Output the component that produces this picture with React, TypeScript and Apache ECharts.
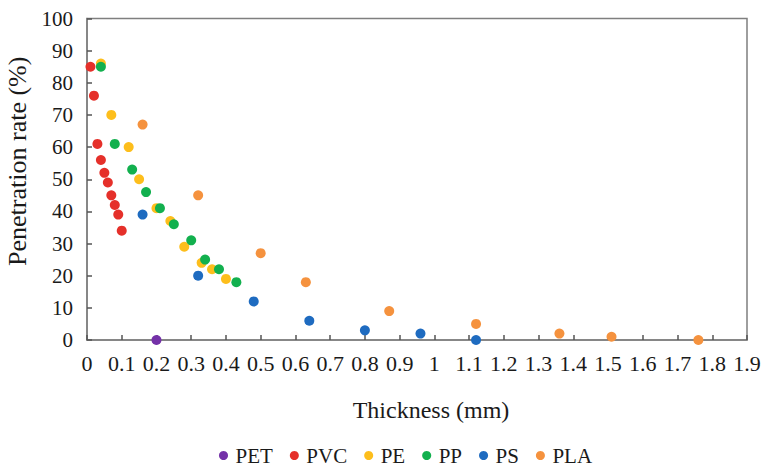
import React, { useEffect, useRef } from "react";
import * as echarts from "echarts";

const xTicksMax = 1.9;
const yTicksMax = 100;

const seriesNames = ["PET", "PVC", "PE", "PP", "PS", "PLA"];
const seriesColors = ["#7431A8", "#E5302A", "#FDBE1C", "#12B04E", "#1E6BC0", "#F5923E"];

const petX = [0.2];
const petY = [0];
const pvcX = [0.01, 0.02, 0.03, 0.04, 0.05, 0.06, 0.07, 0.08, 0.09, 0.1];
const pvcY = [85, 76, 61, 56, 52, 49, 45, 42, 39, 34];
const peX = [0.04, 0.07, 0.12, 0.15, 0.2, 0.24, 0.28, 0.33, 0.36, 0.4];
const peY = [86, 70, 60, 50, 41, 37, 29, 24, 22, 19];
const ppX = [0.04, 0.08, 0.13, 0.17, 0.21, 0.25, 0.3, 0.34, 0.38, 0.43];
const ppY = [85, 61, 53, 46, 41, 36, 31, 25, 22, 18];
const psX = [0.16, 0.32, 0.48, 0.64, 0.8, 0.96, 1.12];
const psY = [39, 20, 12, 6, 3, 2, 0];
const plaX = [0.16, 0.32, 0.5, 0.63, 0.87, 1.12, 1.36, 1.51, 1.76];
const plaY = [67, 45, 27, 18, 9, 5, 2, 1, 0];

const xs = [petX, pvcX, peX, ppX, psX, plaX];
const ys = [petY, pvcY, peY, ppY, psY, plaY];

const FONT = "Liberation Serif";
const TEXT = "#1a1a1a";
const AXIS = "#7f7f7f";

export default function App() {
  const ref = useRef<HTMLDivElement>(null);
  useEffect(() => {
    if (!ref.current) return;
    const chart = echarts.init(ref.current, null, { renderer: "svg" });
    chart.setOption({
      animation: false,
      backgroundColor: "#ffffff",
      textStyle: { fontFamily: FONT },
      grid: {
        left: 87,
        right: 16,
        top: 18.5,
        bottom: 126,
        show: true,
        borderColor: AXIS,
        borderWidth: 1.5,
        outerBoundsMode: "none",
      },
      legend: {
        data: seriesNames,
        left: 214,
        top: 440,
        icon: "circle",
        itemWidth: 14,
        itemHeight: 9,
        itemGap: 17,
        textStyle: { fontFamily: FONT, fontSize: 21, color: TEXT },
      },
      xAxis: {
        type: "value",
        min: 0,
        max: xTicksMax,
        interval: 0.1,
        axisLine: { show: true, lineStyle: { color: AXIS, width: 1.5 } },
        axisTick: { show: true, inside: true, length: 5, lineStyle: { color: "#555", width: 1.5 } },
        splitLine: { show: false },
        axisLabel: {
          margin: 12,
          fontFamily: FONT,
          fontSize: 22,
          color: TEXT,
        },
      },
      yAxis: {
        type: "value",
        min: 0,
        max: yTicksMax,
        interval: 10,
        name: "Penetration rate (%)",
        nameLocation: "middle",
        nameGap: 52,
        nameTextStyle: {
          fontFamily: FONT,
          fontSize: 26,
          color: TEXT,
          padding: [0, 0, 0, 36],
        },
        axisLine: { show: true, lineStyle: { color: AXIS, width: 1.5 } },
        axisTick: { show: true, inside: true, length: 5, lineStyle: { color: "#555", width: 1.5 } },
        splitLine: { show: false },
        axisLabel: {
          margin: 14,
          fontFamily: FONT,
          fontSize: 21,
          color: TEXT,
        },
      },
      graphic: [
        {
          type: "text",
          x: 431,
          y: 410,
          style: {
            text: "Thickness (mm)",
            fontFamily: FONT,
            fontSize: 24,
            fill: TEXT,
            textAlign: "center",
            textVerticalAlign: "middle",
          },
        },
      ],
      series: seriesNames.map((name, i) => ({
        name,
        type: "scatter",
        symbol: "circle",
        symbolSize: 10,
        itemStyle: { color: seriesColors[i], opacity: 1 },
        data: xs[i].map((x, j) => [x, ys[i][j]]),
      })),
    });
    return () => chart.dispose();
  }, []);
  return (
    <div style={{ position: "fixed", left: 0, top: 0, width: 763, height: 466 }}>
      <div ref={ref} style={{ width: 763, height: 466 }} />
    </div>
  );
}
